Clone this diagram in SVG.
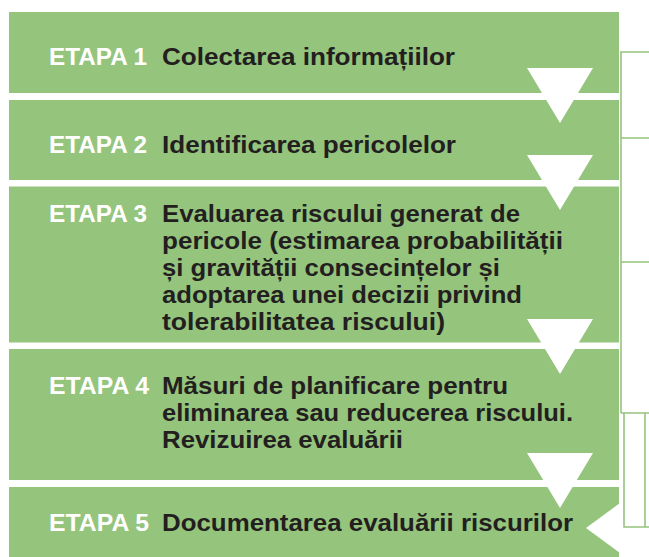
<svg xmlns="http://www.w3.org/2000/svg" width="649" height="557" viewBox="0 0 649 557">
<style>
.box{fill:#95c47d}
.lbl{font-family:"Liberation Sans",Arial,sans-serif;font-weight:bold;font-size:24px;fill:#ffffff}
.txt{font-family:"Liberation Sans",Arial,sans-serif;font-weight:bold;font-size:24px;fill:#231f20}
.arr{fill:#ffffff}
.band{fill:none;stroke:#95c47d;stroke-width:1.6}
</style>
<rect width="649" height="557" fill="#ffffff"/>
<g id="step1">
<rect class="box" x="9" y="12" width="610" height="81"/>
</g>
<g id="step2">
<rect class="box" x="9" y="100" width="610" height="80"/>
</g>
<g id="step3">
<rect class="box" x="9" y="186.5" width="610" height="156"/>
</g>
<g id="step4">
<rect class="box" x="9" y="349" width="610" height="131"/>
</g>
<g id="step5">
<rect class="box" x="9" y="487" width="610" height="70"/>
</g>
<g id="connectors">
<polygon class="arr" points="527,68 593,68 560,123"/>
<polygon class="arr" points="527,155 593,155 560,210"/>
<polygon class="arr" points="527,319 593,319 560,374"/>
<polygon class="arr" points="527,453 593,453 560,508"/>
<polygon class="arr" points="586,528 620,503 620,553"/>
<path class="band" d="M649,52 H621 V413 M621,138 H649 M621,262 H649 M621,413 H649 M624,413 V527 H649 M645,413 V527"/>
</g>
<g id="labels">
<text class="lbl" x="49" y="64.5" textLength="98" lengthAdjust="spacingAndGlyphs">ETAPA 1</text>
<text class="txt" x="162" y="64.5" textLength="293" lengthAdjust="spacingAndGlyphs">Colectarea informațiilor</text>
<text class="lbl" x="49" y="152.5" textLength="98" lengthAdjust="spacingAndGlyphs">ETAPA 2</text>
<text class="txt" x="162" y="152.5" textLength="294" lengthAdjust="spacingAndGlyphs">Identificarea pericolelor</text>
<text class="lbl" x="49" y="222" textLength="98" lengthAdjust="spacingAndGlyphs">ETAPA 3</text>
<text class="txt" x="162" y="222" textLength="358" lengthAdjust="spacingAndGlyphs">Evaluarea riscului generat de</text>
<text class="txt" x="162" y="249" textLength="401" lengthAdjust="spacingAndGlyphs">pericole (estimarea probabilității</text>
<text class="txt" x="162" y="276" textLength="338" lengthAdjust="spacingAndGlyphs">și gravității consecințelor și</text>
<text class="txt" x="162" y="303" textLength="360" lengthAdjust="spacingAndGlyphs">adoptarea unei decizii privind</text>
<text class="txt" x="162" y="330" textLength="283" lengthAdjust="spacingAndGlyphs">tolerabilitatea riscului)</text>
<text class="lbl" x="49" y="394" textLength="100" lengthAdjust="spacingAndGlyphs">ETAPA 4</text>
<text class="txt" x="162" y="394" textLength="346" lengthAdjust="spacingAndGlyphs">Măsuri de planificare pentru</text>
<text class="txt" x="162" y="421" textLength="411" lengthAdjust="spacingAndGlyphs">eliminarea sau reducerea riscului.</text>
<text class="txt" x="162" y="448" textLength="241" lengthAdjust="spacingAndGlyphs">Revizuirea evaluării</text>
<text class="lbl" x="49" y="531" textLength="100" lengthAdjust="spacingAndGlyphs">ETAPA 5</text>
<text class="txt" x="162" y="531" textLength="411" lengthAdjust="spacingAndGlyphs">Documentarea evaluării riscurilor</text>
</g>
</svg>
